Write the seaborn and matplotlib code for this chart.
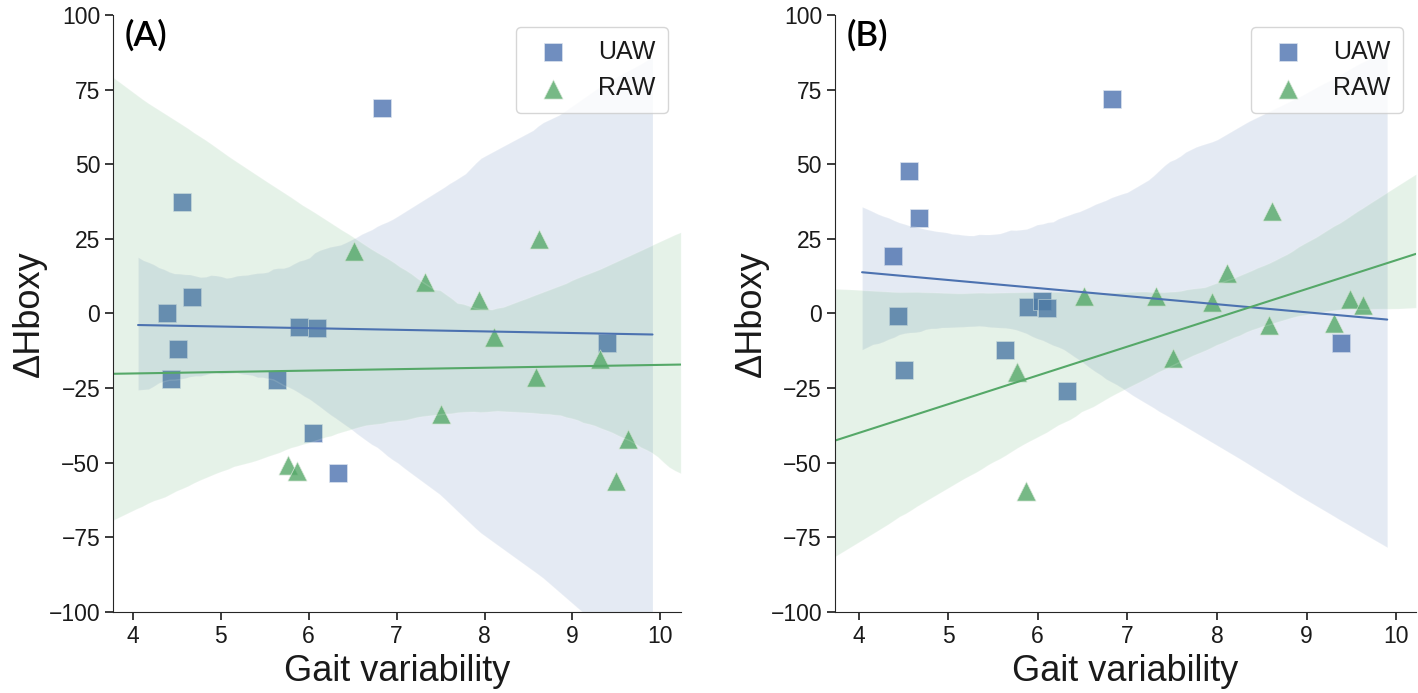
import matplotlib
matplotlib.use("Agg")
import matplotlib.pyplot as plt
import seaborn as sns

# gait variability is shared by both panels
uaw_gait = [4.39, 4.44, 4.51, 4.56, 4.67, 5.64, 5.89, 6.05, 6.10, 6.33, 6.83, 9.39]
raw_gait = [5.77, 5.87, 6.52, 7.32, 7.51, 7.94, 8.11, 8.58, 8.62, 9.31, 9.49, 9.63]

# delta Hboxy, panel A and panel B
uaw_hboxy_a = [0.0, -21.8, -12.0, 37.2, 5.4, -22.4, -4.4, -40.0, -5.0, -53.3, 69.0, -10.0]
raw_hboxy_a = [-50.6, -52.8, 20.8, 10.5, -33.6, 4.6, -7.9, -21.3, 25.0, -15.4, -56.2, -41.9]
uaw_hboxy_b = [19.4, -1.0, -18.9, 47.7, 32.1, -12.4, 2.1, 4.1, 1.9, -26.0, 71.7, -9.9]
raw_hboxy_b = [-19.7, -59.5, 6.0, 6.0, -14.8, 3.8, 13.5, -4.0, 34.2, -3.2, 4.7, 2.7]

panel_labels = ["(A)", "(B)"]
yticks = [-100, -75, -50, -25, 0, 25, 50, 75, 100]

BLUE = "#4c72b0"
GREEN = "#55a868"

sns.set_style("ticks")
plt.rcParams["font.family"] = ["Liberation Sans", "DejaVu Sans"]

fig = plt.figure(figsize=(14.18, 6.93), dpi=100)

panels = [
    # axes rect, blue line range, final x range, data
    ([0.080, 0.1169, 0.400, 0.8615], (4.06, 9.91), (3.78, 10.23), uaw_hboxy_a, raw_hboxy_a),
    ([0.589, 0.1169, 0.4095, 0.8615], (4.04, 9.90), (3.74, 10.22), uaw_hboxy_b, raw_hboxy_b),
]

for i, (rect, line_lim, ax_lim, uaw_y, raw_y) in enumerate(panels):
    ax = fig.add_axes(rect)
    ax.set_xlim(*line_lim)
    sns.regplot(x=uaw_gait, y=uaw_y, ax=ax, marker="s", color=BLUE,
                truncate=False, seed=3, label="UAW",
                scatter_kws={"s": 170, "edgecolors": "#dde4ee", "linewidths": 0.6},
                line_kws={"lw": 1.5})
    ax.set_xlim(*ax_lim)
    sns.regplot(x=raw_gait, y=raw_y, ax=ax, marker="^", color=GREEN,
                truncate=False, seed=3, label="RAW",
                scatter_kws={"s": 190, "edgecolors": "#dde9dd", "linewidths": 0.6},
                line_kws={"lw": 1.5})
    ax.set_xlim(*ax_lim)
    ax.set_ylim(-100, 100)
    ax.set_yticks(yticks)
    ax.set_xticks(range(4, 11))
    ax.tick_params(labelsize=16.5, length=6, width=1.2, colors=".1")
    ax.set_xlabel("Gait variability", fontsize=26, color=".1")
    ax.set_ylabel("\u0394Hboxy", fontsize=26, color=".1", labelpad=1)
    leg = ax.legend(loc="upper right", fontsize=18, borderpad=0.5)
    for t in leg.get_texts():
        t.set_color(".1")
    ax.text(0.02, 0.965, panel_labels[i], transform=ax.transAxes,
            fontsize=25, fontweight="semibold", family=["Lato", "DejaVu Sans"],
            va="center", ha="left", color="black")
    sns.despine(ax=ax)

fig.savefig("out.png", dpi=100)
plt.close(fig)
